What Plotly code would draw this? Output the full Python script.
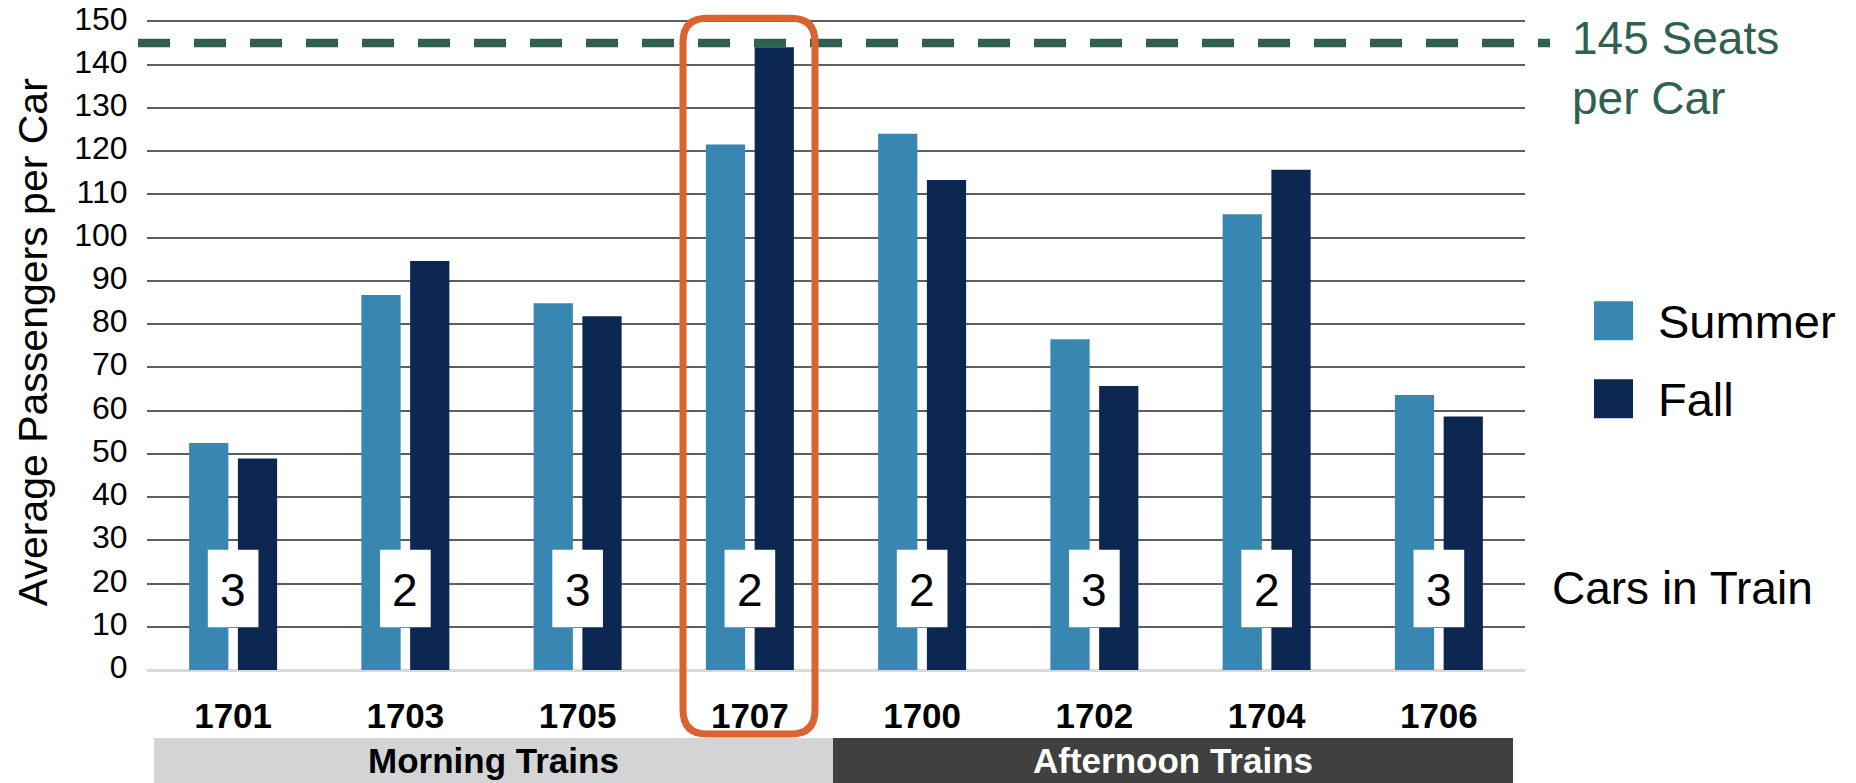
import plotly.graph_objects as go

# ---- data ----
trains = ["1701", "1703", "1705", "1707", "1700", "1702", "1704", "1706"]
summer = [52.5, 86.7, 84.8, 121.5, 124.0, 76.5, 105.4, 63.6]
fall = [48.9, 94.6, 81.8, 144.0, 113.3, 65.7, 115.7, 58.6]
cars_in_train = ["3", "2", "3", "2", "2", "3", "2", "3"]
seat_capacity = 145
groups = ["Morning Trains", "Afternoon Trains"]
y_ticks = list(range(0, 151, 10))

# ---- layout geometry (screen pixels) ----
W, H = 1856, 783
L, R, T, B = 147, 1525, 21, 670          # plot area in screen pixels (150 at T)
Y_TOP = 151.0
T_EFF = B - (B - T) * Y_TOP / 150.0      # keep 150 at screen y=T
FONT = "Liberation Sans, Arial, sans-serif"
SUMMER_C = "#3886B2"
FALL_C = "#0C2852"
GREEN = "#2E6151"
ORANGE = "#DA6330"


def px(xp):
    return (xp - L) / (R - L)


def py(yp):
    return (B - yp) / (B - T_EFF)


fig = go.Figure()
fig.add_trace(go.Bar(name="Summer", x=trains, y=summer, marker_color=SUMMER_C,
                     marker_line_width=0, hoverinfo="x+y"))
fig.add_trace(go.Bar(name="Fall", x=trains, y=fall, marker_color=FALL_C,
                     marker_line_width=0, hoverinfo="x+y"))

shapes = []
annotations = []

# seat capacity dashed line
shapes.append(dict(type="line", xref="paper", yref="y", x0=px(138), x1=px(1550),
                   y0=seat_capacity, y1=seat_capacity,
                   line=dict(color=GREEN, width=8.5, dash="32px,24px"), layer="above"))
annotations.append(dict(xref="paper", yref="paper", x=px(1570), y=py(68),
                        xanchor="left", yanchor="middle", align="left", showarrow=False,
                        text=f"{seat_capacity} Seats<br>per Car",
                        font=dict(family=FONT, size=46, color=GREEN)))

# cars-in-train boxes
for i, c in enumerate(cars_in_train):
    shapes.append(dict(type="rect", xref="x", yref="y", x0=i - 0.147, x1=i + 0.147,
                       y0=9.9, y1=27.8, fillcolor="white", line=dict(width=0), layer="above"))
    annotations.append(dict(xref="x", yref="y", x=i, y=18.6, text=c, showarrow=False,
                            xanchor="center", yanchor="middle",
                            font=dict(family=FONT, size=46, color="black")))
annotations.append(dict(xref="paper", yref="paper", x=px(1550), y=py(588),
                        xanchor="left", yanchor="middle", showarrow=False,
                        text="Cars in Train", font=dict(family=FONT, size=46, color="black")))

# highlight rounded rectangle around 1707
x0, x1, y0, y1, r = 683, 815, 18, 734, 24
pts = [
    ("M", (x0 + r, y0)), ("L", (x1 - r, y0)), ("Q", (x1, y0), (x1, y0 + r)),
    ("L", (x1, y1 - r)), ("Q", (x1, y1), (x1 - r, y1)),
    ("L", (x0 + r, y1)), ("Q", (x0, y1), (x0, y1 - r)),
    ("L", (x0, y0 + r)), ("Q", (x0, y0), (x0 + r, y0)),
]
path = ""
for p in pts:
    cmd = p[0]
    coords = " ".join(f"{px(a):.5f},{py(b):.5f}" for a, b in p[1:])
    path += f"{cmd} {coords} "
path += "Z"
shapes.append(dict(type="path", xref="paper", yref="paper", path=path,
                   line=dict(color=ORANGE, width=7), fillcolor="rgba(0,0,0,0)", layer="above"))

# group bands below axis
bands = [(154, 833, "#D3D4D6", "black"), (833, 1513, "#404040", "white")]
for (a, b, fc, tc), g in zip(bands, groups):
    shapes.append(dict(type="rect", xref="paper", yref="paper", x0=px(a), x1=px(b),
                       y0=py(783), y1=py(738), fillcolor=fc, line=dict(width=0), layer="above"))
    annotations.append(dict(xref="paper", yref="paper", x=px((a + b) / 2), y=py(761),
                            xanchor="center", yanchor="middle", showarrow=False,
                            text=f"<b>{g}</b>", font=dict(family=FONT, size=35, color=tc)))

# custom legend
for (name, col), (top, bot, cy) in zip([("Summer", SUMMER_C), ("Fall", FALL_C)],
                                        [(301, 340, 321), (379, 418, 399)]):
    shapes.append(dict(type="rect", xref="paper", yref="paper", x0=px(1594), x1=px(1633),
                       y0=py(bot), y1=py(top), fillcolor=col, line=dict(width=0)))
    annotations.append(dict(xref="paper", yref="paper", x=px(1656), y=py(cy),
                            xanchor="left", yanchor="middle", showarrow=False, text=name,
                            font=dict(family=FONT, size=47, color="black")))

# y axis title
annotations.append(dict(xref="paper", yref="paper", x=px(33), y=py(342), textangle=-90,
                        xanchor="center", yanchor="middle", showarrow=False,
                        text="Average Passengers per Car",
                        font=dict(family=FONT, size=41, color="black")))

fig.update_layout(
    width=W, height=H,
    margin=dict(l=L, r=W - R, t=T_EFF, b=H - B, pad=0, autoexpand=False),
    paper_bgcolor="white", plot_bgcolor="white",
    barmode="group", bargap=0.434, bargroupgap=0.195,
    showlegend=False,
    shapes=shapes, annotations=annotations,
    font=dict(family=FONT, color="black"),
    xaxis=dict(type="category", showgrid=False, showline=False, zeroline=False,
               automargin=False,
               ticks="outside", ticklen=15, tickcolor="rgba(0,0,0,0)",
               tickfont=dict(family=FONT, size=35, color="black"),
               tickprefix="<b>", ticksuffix="</b>"),
    yaxis=dict(range=[0, Y_TOP], tickvals=y_ticks, showgrid=True, gridcolor="#5E5E5E",
               gridwidth=2, zeroline=True, zerolinecolor="#D9D9D9", zerolinewidth=3,
               automargin=False,
               showline=False, ticks="outside", ticklen=12, tickcolor="rgba(0,0,0,0)",
               ticklabeloverflow="allow", ticklabelshift=-3,
               tickfont=dict(family=FONT, size=32, color="black")),
)

# remove the default page margin so the 1856x783 figure fills the window exactly
fig.write_html("out.html", config={"displayModeBar": False},
               post_script="document.body.style.margin='0px';")
